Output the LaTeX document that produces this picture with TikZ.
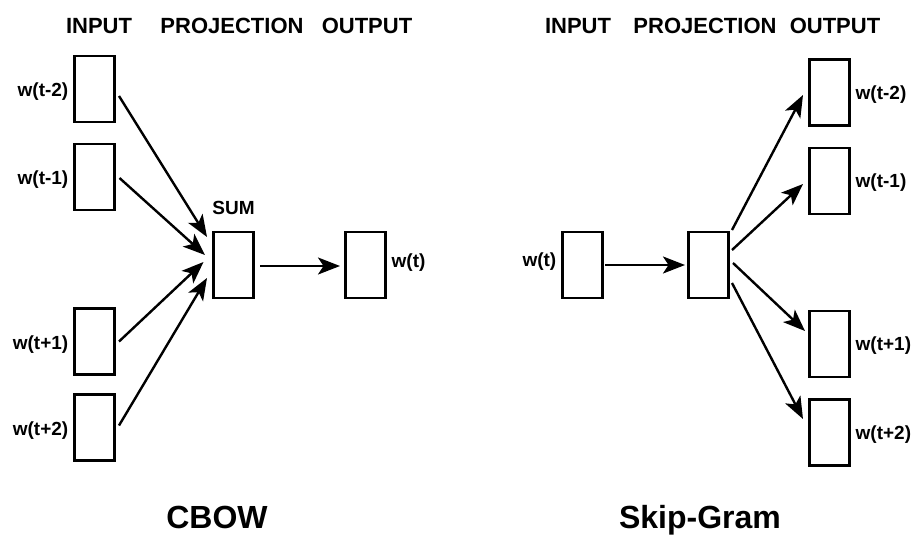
\documentclass[tikz,border=0pt]{standalone}
\usepackage{fontspec}
\setmainfont{Liberation Sans}
\usetikzlibrary{arrows.meta}
\begin{document}
\begin{tikzpicture}[x=1pt,y=-1pt,
  wbox/.style={draw=black,line width=2.6pt,minimum width=40pt,minimum height=66pt,inner sep=0pt,outer sep=0pt},
  arr/.style={line width=2.4pt,-{Stealth[length=22pt,width=17pt,inset=5.5pt]}},
  head/.style={font=\fontsize{22}{22}\selectfont\bfseries,anchor=base,inner sep=0pt},
  title/.style={font=\fontsize{32}{32}\selectfont\bfseries,anchor=base,inner sep=0pt},
  lbl/.style={font=\fontsize{19}{19}\selectfont\bfseries,inner sep=0pt}]
\useasboundingbox (0,0) rectangle (914,536);
\fill[white] (0,0) rectangle (914,536);
% ---------------- CBOW ----------------
\node[head] (h1) at (99,33) {INPUT};
\node[head] (h2) at (232,33) {PROJECTION};
\node[head] (h3) at (367,33) {OUTPUT};
\node[wbox] (in1) at (94.5,89) {};
\node[wbox] (in2) at (94.5,177) {};
\node[wbox] (in3) at (94.5,341.5) {};
\node[wbox] (in4) at (94.5,427.5) {};
\node[wbox] (sum) at (233.5,265) {};
\node[wbox] (out) at (365.5,265) {};
\node[lbl,anchor=east] (l1) at ([xshift=-6pt,yshift=-3pt]in1.west) {w(t-2)};
\node[lbl,anchor=east] (l2) at ([xshift=-6pt,yshift=-3pt]in2.west) {w(t-1)};
\node[lbl,anchor=east] (l3) at ([xshift=-6pt,yshift=-3pt]in3.west) {w(t+1)};
\node[lbl,anchor=east] (l4) at ([xshift=-6pt,yshift=-3pt]in4.west) {w(t+2)};
\node[lbl,anchor=base] (ls) at (233.5,214) {SUM};
\node[lbl,anchor=west] (lo) at ([xshift=6pt,yshift=2pt]out.east) {w(t)};
\draw[arr] ([xshift=4.5pt,yshift=-7pt]in1.east) -- ([xshift=-6.5pt,yshift=28pt]sum.west);
\draw[arr] ([xshift=5pt,yshift=-1pt]in2.east) -- ([xshift=-8.5pt,yshift=10pt]sum.west);
\draw[arr] ([xshift=4.5pt,yshift=0pt]in3.east) -- ([xshift=-10pt,yshift=3pt]sum.west);
\draw[arr] ([xshift=4.5pt,yshift=2pt]in4.east) -- ([xshift=-6.5pt,yshift=-13pt]sum.west);
\draw[arr] ([xshift=6.5pt,yshift=-1pt]sum.east) -- ([xshift=-5.5pt,yshift=-1pt]out.west);
\node[title] (t1) at (217,528) {CBOW};
% ---------------- Skip-Gram ----------------
\node[head] (k1) at (578,33) {INPUT};
\node[head] (k2) at (705,33) {PROJECTION};
\node[head] (k3) at (835,33) {OUTPUT};
\node[wbox] (sin) at (582.5,265) {};
\node[wbox] (spr) at (708.5,265) {};
\node[wbox] (o1) at (829.5,92.5) {};
\node[wbox] (o2) at (829.5,181) {};
\node[wbox] (o3) at (829.5,344) {};
\node[wbox] (o4) at (829.5,432.5) {};
\node[lbl,anchor=east] (li) at ([xshift=-6pt,yshift=3pt]sin.west) {w(t)};
\node[lbl,anchor=west] (m1) at ([xshift=6pt,yshift=-2pt]o1.east) {w(t-2)};
\node[lbl,anchor=west] (m2) at ([xshift=6pt,yshift=-2pt]o2.east) {w(t-1)};
\node[lbl,anchor=west] (m3) at ([xshift=6pt,yshift=-2pt]o3.east) {w(t+1)};
\node[lbl,anchor=west] (m4) at ([xshift=6pt,yshift=-2pt]o4.east) {w(t+2)};
\draw[arr] ([xshift=2.5pt]sin.east) -- ([xshift=-3.5pt]spr.west);
\draw[arr] ([xshift=3.5pt,yshift=2pt]spr.north east) -- ([xshift=-6.5pt,yshift=-2.5pt]o1.west);
\draw[arr] ([xshift=3.5pt,yshift=15pt]spr.east) -- ([xshift=-6.5pt,yshift=-3pt]o2.west);
\draw[arr] ([xshift=4.5pt,yshift=2pt]spr.east) -- ([xshift=-4.5pt,yshift=13pt]o3.west);
\draw[arr] ([xshift=3.5pt,yshift=-18pt]spr.east) -- ([xshift=-6.5pt,yshift=13.5pt]o4.west);
\node[title] (t2) at (700,528) {Skip-Gram};
\end{tikzpicture}
\end{document}
